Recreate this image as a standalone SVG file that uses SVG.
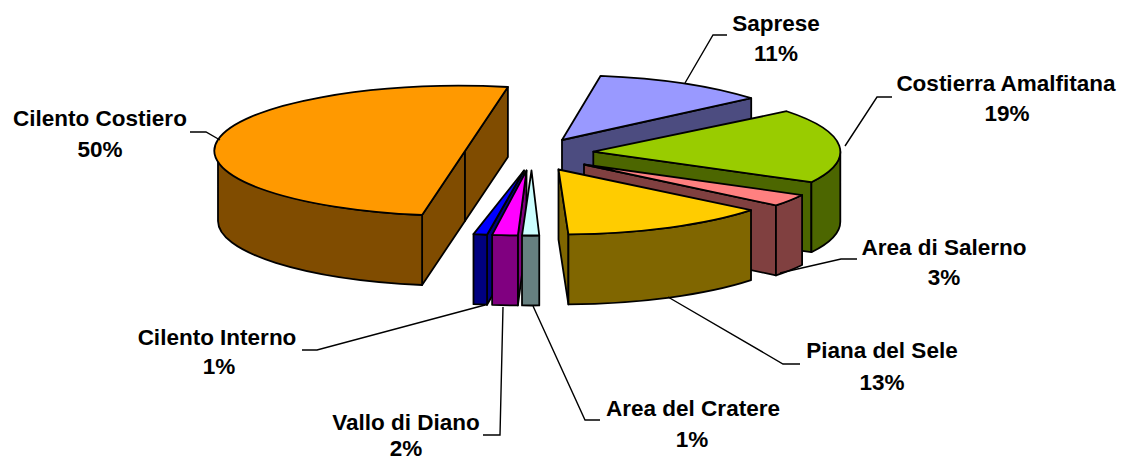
<svg xmlns="http://www.w3.org/2000/svg" width="1121" height="459" viewBox="0 0 1121 459">
<style>
.f{stroke:#000;stroke-width:1.8;stroke-linejoin:round}
.lbl{font-family:"Liberation Sans",Arial,sans-serif;font-weight:bold;font-size:22.5px;fill:#000;text-anchor:middle}
.ld{fill:none;stroke:#000;stroke-width:1.4}
.cc-t{fill:#FF9900}.cc-s{fill:#804C00}
.sa-t{fill:#9999FF}.sa-s{fill:#4C4C80}
.am-t{fill:#99CC00}.am-s{fill:#4C6600}
.se-t{fill:#FF8080}.se-s{fill:#804040}
.pi-t{fill:#FFCC00}.pi-s{fill:#806600}
.cr-t{fill:#CCFFFF}.cr-s{fill:#668080}
.va-t{fill:#FF00FF}.va-s{fill:#800080}
.ci-t{fill:#0000FF}.ci-s{fill:#000080}
</style>
<rect width="1121" height="459" fill="#fff"/>

<g id="cilento-costiero">
<path class="f cc-s" d="M465,151 L422.11,215.01 L422.11,285.01 L465,221 Z"/>
<path class="f cc-s" d="M465,151 L507.89,87 L507.89,157 L465,221 Z"/>
<path class="f cc-s" d="M422.11,215.01 A247 65 0 0 1 218,151 L218,221 A247 65 0 0 0 422.11,285.01 Z"/>
<path class="f cc-t" d="M465,151 L422.11,215.01 A247 65 0 1 1 507.89,87 Z"/>
</g>

<g id="saprese">
<path class="f sa-s" d="M562,140 L751.21,98.22 L751.21,168.22 L562,210 Z"/>
<path class="f sa-t" d="M562,140 L600.64,75.8 A247 65 0 0 1 751.21,98.22 Z"/>
</g>

<g id="costierra-amalfitana">
<path class="f am-s" d="M593.3,151.7 L811.39,182.22 L811.39,252.22 L593.3,221.7 Z"/>
<path class="f am-s" d="M840.3,151.7 A247 65 0 0 1 811.39,182.22 L811.39,252.22 A247 65 0 0 0 840.3,221.7 Z"/>
<path class="f am-t" d="M593.3,151.7 L786.6,111.24 A247 65 0 0 1 811.39,182.22 Z"/>
</g>

<g id="area-di-salerno">
<path class="f se-s" d="M584,164.5 L775.96,205.41 L775.96,275.41 L584,234.5 Z"/>
<path class="f se-s" d="M802.09,195.02 A247 65 0 0 1 775.96,205.41 L775.96,275.41 A247 65 0 0 0 802.09,265.02 Z"/>
<path class="f se-t" d="M584,164.5 L802.09,195.02 A247 65 0 0 1 775.96,205.41 Z"/>
</g>

<g id="piana-del-sele">
<path class="f pi-s" d="M558.5,169.5 L568.41,234.45 L568.41,304.45 L558.5,239.5 Z"/>
<path class="f pi-s" d="M751.02,210.23 A247 65 0 0 1 568.41,234.45 L568.41,304.45 A247 65 0 0 0 751.02,280.23 Z"/>
<path class="f pi-t" d="M558.5,169.5 L751.02,210.23 A247 65 0 0 1 568.41,234.45 Z"/>
</g>

<g id="cilento-interno">
<path class="f ci-s" d="M524,170.5 L487.06,234.77 L487.06,304.77 L524,240.5 Z"/>
<path class="f ci-s" d="M487.06,234.77 A247 65 0 0 1 473.49,234.13 L473.49,304.13 A247 65 0 0 0 487.06,304.77 Z"/>
<path class="f ci-t" d="M524,170.5 L487.06,234.77 A247 65 0 0 1 473.49,234.13 Z"/>
</g>

<g id="vallo-di-diano">
<path class="f va-s" d="M526.5,170.5 L517.88,235.46 L517.88,305.46 L526.5,240.5 Z"/>
<path class="f va-s" d="M517.88,235.46 A247 65 0 0 1 492.13,234.87 L492.13,304.87 A247 65 0 0 0 517.88,305.46 Z"/>
<path class="f va-t" d="M526.5,170.5 L517.88,235.46 A247 65 0 0 1 492.13,234.87 Z"/>
</g>

<g id="area-del-cratere">
<path class="f cr-s" d="M539.26,235.47 A247 65 0 0 1 522.02,235.45 L522.02,305.45 A247 65 0 0 0 539.26,305.47 Z"/>
<path class="f cr-t" d="M531.5,170.5 L539.26,235.47 A247 65 0 0 1 522.02,235.45 Z"/>
</g>

<g id="connectors">
<polyline class="ld" points="190,132 206,132 220,140"/>
<polyline class="ld" points="727,35 713,35 685,83"/>
<polyline class="ld" points="892,97 877,97 845,146"/>
<polyline class="ld" points="857,259 841,259 780,273"/>
<polyline class="ld" points="800,364 783,364 668,297"/>
<polyline class="ld" points="600,420 585,420 533,306"/>
<polyline class="ld" points="483,435 500,435 503,307"/>
<polyline class="ld" points="302,350 317,350 485,305"/>
</g>

<g id="labels">
<text class="lbl" x="100" y="126">Cilento Costiero</text>
<text class="lbl" x="100" y="157">50%</text>
<text class="lbl" x="776" y="31">Saprese</text>
<text class="lbl" x="776" y="61">11%</text>
<text class="lbl" x="1006" y="91">Costierra Amalfitana</text>
<text class="lbl" x="1007" y="121">19%</text>
<text class="lbl" x="944" y="255">Area di Salerno</text>
<text class="lbl" x="944" y="285">3%</text>
<text class="lbl" x="882" y="358">Piana del Sele</text>
<text class="lbl" x="882" y="390">13%</text>
<text class="lbl" x="693" y="416">Area del Cratere</text>
<text class="lbl" x="692" y="447">1%</text>
<text class="lbl" x="406" y="430">Vallo di Diano</text>
<text class="lbl" x="406" y="456">2%</text>
<text class="lbl" x="217" y="345">Cilento Interno</text>
<text class="lbl" x="219" y="374">1%</text>
</g>
</svg>
